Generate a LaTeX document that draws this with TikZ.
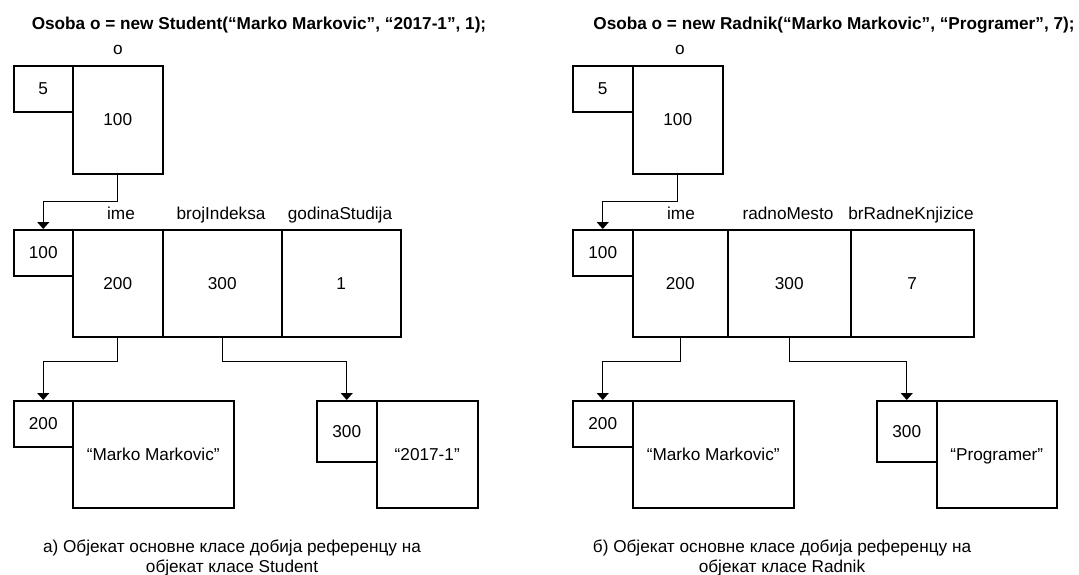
\documentclass[tikz,border=0pt]{standalone}
\usepackage{fontspec}
\setmainfont{Liberation Sans}
\usetikzlibrary{arrows.meta}

\begin{document}
\begin{tikzpicture}[x=1pt,y=-1pt,
    every node/.style={font=\fontsize{17.2}{20}\selectfont},
    cell/.style={draw, line width=1.5pt, rectangle, inner sep=0pt, anchor=north west,
                 text height=12.3pt, text depth=0pt},
    txt/.style={inner sep=0pt, anchor=base},
    ttl/.style={txt, font=\fontsize{17.2}{20}\selectfont\bfseries},
    conn/.style={line width=1.3pt, -{Triangle[width=12pt,length=7pt]}}]

\useasboundingbox (0,0) rectangle (1079,574);

% ---------------- a) Student ----------------
\node[ttl] (tA) at (259,29) {Osoba o = new Student(“Marko Markovic”, “2017-1”, 1);};
\node[txt] (oA) at (118,54) {o};
\node[cell, minimum width=59pt, minimum height=46pt] (hA) at (13,65) {5};
\node[cell, minimum width=90pt, minimum height=108pt] (vA) at (72,65) {100};

\node[cell, minimum width=59pt, minimum height=46pt] (sA) at (13,229) {100};
\node[cell, minimum width=90pt, minimum height=107pt] (imeA) at (72,229) {200};
\node[cell, minimum width=119pt, minimum height=107pt] (idxA) at (162,229) {300};
\node[cell, minimum width=119pt, minimum height=107pt] (godA) at (281,229) {1};
\node[txt] (limeA) at (121,219) {ime};
\node[txt] (lidxA) at (221,219) {brojIndeksa};
\node[txt] (lgodA) at (340,219) {godinaStudija};

\node[cell, minimum width=59pt, minimum height=46pt] (a200) at (13,400) {200};
\node[cell, minimum width=161pt, minimum height=107pt] (aStr1) at (72,400) {“Marko Markovic”};
\node[cell, minimum width=60pt, minimum height=61pt] (a300) at (316,400) {300};
\node[cell, minimum width=101pt, minimum height=107pt] (aStr2) at (376,400) {“2017-1”};

\draw[conn] (vA.south) -- ++(0,27) -| (sA.north);
\draw[conn] (imeA.south) -- ++(0,24) -| (a200.north);
\draw[conn] (idxA.south) -- ++(0,24) -| (a300.north);

\node[txt] (capA1) at (232,552) {а) Објекат основне класе добија референцу на};
\node[txt] (capA2) at (232,572) {објекат класе Student};

% ---------------- б) Radnik ----------------
\node[ttl] (tB) at (834,29) {Osoba o = new Radnik(“Marko Markovic”, “Programer”, 7);};
\node[txt] (oB) at (680,54) {o};
\node[cell, minimum width=60pt, minimum height=46pt] (hB) at (572,65) {5};
\node[cell, minimum width=90pt, minimum height=108pt] (vB) at (632,65) {100};

\node[cell, minimum width=60pt, minimum height=46pt] (sB) at (572,229) {100};
\node[cell, minimum width=95pt, minimum height=107pt] (imeB) at (632,229) {200};
\node[cell, minimum width=123pt, minimum height=107pt] (radB) at (727,229) {300};
\node[cell, minimum width=123pt, minimum height=107pt] (brB) at (850,229) {7};
\node[txt] (limeB) at (681,219) {ime};
\node[txt] (lradB) at (788,219) {radnoMesto};
\node[txt] (lbrB) at (911,219) {brRadneKnjizice};

\node[cell, minimum width=60pt, minimum height=46pt] (b200) at (572,400) {200};
\node[cell, minimum width=161pt, minimum height=107pt] (bStr1) at (632,400) {“Marko Markovic”};
\node[cell, minimum width=60pt, minimum height=61pt] (b300) at (876,400) {300};
\node[cell, minimum width=120pt, minimum height=107pt] (bStr2) at (936,400) {“Programer”};

\draw[conn] (vB.south) -- ++(0,27) -| (sB.north);
\draw[conn] (imeB.south) -- ++(0,24) -| (b200.north);
\draw[conn] (radB.south) -- ++(0,24) -| (b300.north);

\node[txt] (capB1) at (782,552) {б) Објекат основне класе добија референцу на};
\node[txt] (capB2) at (782,572) {објекат класе Radnik};

\end{tikzpicture}
\end{document}
